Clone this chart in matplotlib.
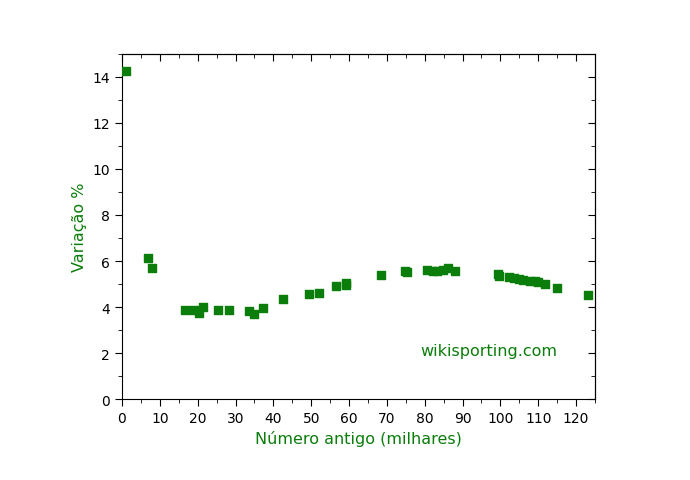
import matplotlib.pyplot as plt
from matplotlib.ticker import MultipleLocator

numero = [1, 6.9, 7.9, 16.7, 19.0, 20.4, 21.4, 25.4, 28.3, 33.6, 34.9, 37.3, 42.6,
          49.4, 52.1, 56.6, 59.2, 59.2, 68.5, 74.8, 75.3, 80.6, 82.2, 83.3, 84.9,
          86.2, 88.0, 99.4, 99.7, 102.3, 103.6, 104.9, 106.0, 107.8, 109.2, 110.0,
          111.8, 115.0, 123.2]
variacao = [14.25, 6.15, 5.7, 3.87, 3.87, 3.74, 4.0, 3.87, 3.87, 3.83, 3.7, 3.96, 4.35,
            4.57, 4.61, 4.91, 5.04, 4.96, 5.39, 5.57, 5.52, 5.61, 5.57, 5.57, 5.61,
            5.7, 5.57, 5.43, 5.35, 5.3, 5.26, 5.22, 5.17, 5.13, 5.13, 5.09,
            5.0, 4.83, 4.52]

green = '#0a7d0a'
fig = plt.figure(figsize=(6.9, 4.81), dpi=100)
ax = fig.add_axes([122/690, 1-400/481, (595-122)/690, (400-55)/481])
ax.scatter(numero, variacao, marker='s', s=28, color=green, zorder=3)

ax.set_xlim(0, 125)
ax.set_ylim(0, 15)
for a in (ax.xaxis,):
    a.set_major_locator(MultipleLocator(10))
    a.set_minor_locator(MultipleLocator(5))
ax.yaxis.set_major_locator(MultipleLocator(2))
ax.yaxis.set_minor_locator(MultipleLocator(1))
ax.tick_params(which='both', labelsize=10)
ax.tick_params(which='major', length=5)
ax.tick_params(which='minor', length=3)

# inward ticks on top and right
top = ax.secondary_xaxis('top')
top.xaxis.set_major_locator(MultipleLocator(10))
top.xaxis.set_minor_locator(MultipleLocator(5))
top.tick_params(which='both', direction='in', labeltop=False)
top.tick_params(which='major', length=5)
top.tick_params(which='minor', length=3)
right = ax.secondary_yaxis('right')
right.yaxis.set_major_locator(MultipleLocator(2))
right.yaxis.set_minor_locator(MultipleLocator(1))
right.tick_params(which='both', direction='in', labelright=False)
right.tick_params(which='major', length=5)
right.tick_params(which='minor', length=3)

ax.set_xlabel('Número antigo (milhares)', color=green, fontsize=11.5)
ax.set_ylabel('Variação %', color=green, fontsize=11.5)
ax.text(97, 1.9, 'wikisporting.com', color=green, fontsize=11.5, ha='center')

fig.savefig('out.png', dpi=100)
